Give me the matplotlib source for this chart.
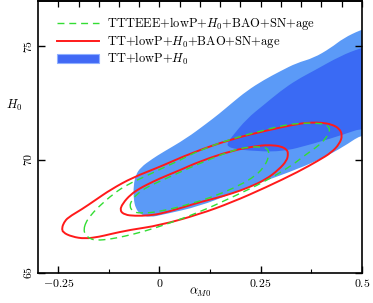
import numpy as np
import matplotlib
matplotlib.use("Agg")
import matplotlib.pyplot as plt
from matplotlib.patches import PathPatch, Patch
from matplotlib.lines import Line2D
from matplotlib.path import Path

plt.rcParams['font.family'] = 'serif'
plt.rcParams['font.serif'] = ['cmr10']
plt.rcParams['mathtext.fontset'] = 'cm'
plt.rcParams['axes.unicode_minus'] = False

# ------------------------------------------------------------
# contour boundaries (alpha_M0, H0)
# ------------------------------------------------------------

# TT+lowP+H0, 2 sigma (light blue)
blue2_x = [-0.025, -0.047, -0.059, -0.064, -0.064, -0.059, -0.047, -0.017, 0.007,
           0.066, 0.116, 0.148, 0.177, 0.216, 0.258, 0.300, 0.339, 0.381, 0.423,
           0.455, 0.497, 0.52, 0.52,
           0.499, 0.455, 0.406, 0.344, 0.263, 0.179, 0.098, 0.012]
blue2_y = [67.44, 67.58, 67.84, 68.28, 68.85, 69.30, 69.65, 70.04, 70.31,
           70.93, 71.59, 72.03, 72.47, 73.04, 73.52, 73.92, 74.27, 74.49, 74.93,
           75.37, 75.73, 75.85, 71.0,
           71.10, 70.57, 70.09, 69.60, 69.07, 68.50, 67.93, 67.58]

# TT+lowP+H0, 1 sigma (dark blue)
blue1_x = [0.167, 0.177, 0.216, 0.258, 0.300, 0.339, 0.381, 0.447, 0.497, 0.52,
           0.52, 0.497, 0.462, 0.381, 0.300, 0.216, 0.184, 0.170]
blue1_y = [70.70, 70.97, 71.81, 72.42, 73.04, 73.52, 73.92, 74.58, 74.93, 75.0,
           71.3, 71.37, 71.15, 70.70, 70.33, 70.40, 70.48, 70.57]

# TT+lowP+H0+BAO+SN+age (red)
red2_x = [-0.241, -0.236, -0.226, -0.192, -0.160, -0.120, -0.066, 0.0, 0.081,
          0.179, 0.263, 0.344, 0.376, 0.401, 0.425, 0.445, 0.452, 0.445, 0.425,
          0.393, 0.344, 0.263, 0.179, 0.098, 0.0, -0.074, -0.123, -0.148,
          -0.184, -0.216, -0.239]
red2_y = [66.98, 67.22, 67.44, 67.80, 68.19, 68.68, 69.21, 69.67, 70.31,
          70.91, 71.28, 71.59, 71.64, 71.63, 71.56, 71.37, 71.06, 70.70, 70.31,
          69.96, 69.47, 68.77, 68.11, 67.58, 67.09, 66.89, 66.70, 66.59,
          66.50, 66.59, 66.78]

red1_x = [-0.098, -0.086, -0.061, -0.025, 0.007, 0.066, 0.098, 0.140, 0.179,
          0.221, 0.263, 0.295, 0.315, 0.318, 0.315, 0.300, 0.275, 0.246, 0.179,
          0.098, 0.049, 0.0, -0.030, -0.049, -0.071, -0.091]
red1_y = [67.75, 67.56, 67.51, 67.53, 67.62, 67.93, 68.11, 68.30, 68.50,
          68.77, 69.12, 69.56, 69.96, 70.26, 70.44, 70.59, 70.64, 70.62, 70.40,
          69.91, 69.52, 69.16, 68.90, 68.72, 68.46, 68.06]

# TTTEEE+lowP+H0+BAO+SN+age (green dashed)
green2_x = [-0.187, -0.184, -0.172, -0.155, -0.123, -0.086, -0.037, 0.017, 0.098,
            0.179, 0.263, 0.327, 0.352, 0.376, 0.393, 0.411, 0.420, 0.420, 0.411,
            0.393, 0.344, 0.302, 0.263, 0.179, 0.098, 0.049, 0.0, -0.030,
            -0.079, -0.113, -0.152, -0.172, -0.182]
green2_y = [66.92, 66.70, 66.50, 66.43, 66.48, 66.61, 66.83, 67.14, 67.67,
            68.33, 69.05, 69.74, 70.09, 70.40, 70.62, 70.93, 71.23, 71.41, 71.54,
            71.61, 71.61, 71.50, 71.32, 70.93, 70.40, 69.96, 69.56, 69.30,
            68.90, 68.50, 67.89, 67.49, 67.22]

green1_x = [-0.074, -0.066, -0.049, 0.0, 0.081, 0.140, 0.197, 0.239, 0.261,
            0.270, 0.270, 0.261, 0.221, 0.179, 0.098, 0.049, 0.0, -0.030,
            -0.054, -0.069]
green1_y = [67.93, 67.71, 67.62, 67.69, 68.06, 68.41, 68.85, 69.30, 69.74,
            70.13, 70.40, 70.55, 70.57, 70.40, 69.82, 69.43, 69.03, 68.79,
            68.50, 68.19]

labels = ['TTTEEE+lowP+$H_0$+BAO+SN+age',
          'TT+lowP+$H_0$+BAO+SN+age',
          'TT+lowP+$H_0$']

xticks = [-0.25, 0, 0.25, 0.5]
xticklabels = ['$-0.25$', '$0$', '$0.25$', '$0.5$']
yticks = [65, 70, 75]


def closed_curve(xs, ys):
    # closed quadratic bezier path using the read points as control points
    p = np.column_stack([xs, ys])
    m = (p + np.roll(p, -1, axis=0)) / 2
    verts = [m[-1]]
    codes = [Path.MOVETO]
    for i in range(len(p)):
        verts += [p[i], m[i]]
        codes += [Path.CURVE3, Path.CURVE3]
    return Path(verts, codes)


# ------------------------------------------------------------
# figure
# ------------------------------------------------------------

c_light = '#5b9af7'
c_dark = '#3a6af4'
c_red = '#ff1a1a'
c_green = '#33dd33'

fig = plt.figure(figsize=(3.73, 3.03), dpi=100)
ax = fig.add_axes([0.102, 0.100, 0.868, 0.896])

ax.add_patch(PathPatch(closed_curve(blue2_x, blue2_y), facecolor=c_light,
                       edgecolor='none', zorder=1))
ax.add_patch(PathPatch(closed_curve(blue1_x, blue1_y), facecolor=c_dark,
                       edgecolor='none', zorder=2))

for xs, ys in [(red2_x, red2_y), (red1_x, red1_y)]:
    ax.add_patch(PathPatch(closed_curve(xs, ys), facecolor='none',
                           edgecolor=c_red, lw=1.4, zorder=3))
for xs, ys in [(green2_x, green2_y), (green1_x, green1_y)]:
    ax.add_patch(PathPatch(closed_curve(xs, ys), facecolor='none',
                           edgecolor=c_green, lw=1.0, zorder=4,
                           linestyle=(0, (5, 3.5))))

ax.set_xlim(-0.3, 0.5)
ax.set_ylim(65, 77)

ax.set_xticks(xticks)
ax.set_xticklabels(xticklabels, fontsize=8.5)
ax.set_xticks([-0.125, 0.125, 0.375], minor=True)
ax.set_yticks(yticks)
ax.set_yticklabels([f'${v}$' for v in yticks], fontsize=8.5, rotation=90,
                   va='center')
ax.tick_params(which='major', direction='in', length=5, width=1.0, pad=3,
               left=True, right=True, bottom=True, top=False)
ax.tick_params(which='minor', direction='in', length=3, width=0.8,
               left=False, right=False, bottom=True, top=False)

top = ax.secondary_xaxis('top')
top.set_xticks(np.round(np.arange(-0.25, 0.51, 0.05), 2))
top.tick_params(direction='in', length=4, width=0.9, labeltop=False)

for s in ax.spines.values():
    s.set_linewidth(1.2)
top.spines['top'].set_linewidth(1.2)

ax.set_xlabel(r'$\alpha_{M0}$', fontsize=9)
ax.xaxis.set_label_coords(0.5, -0.05)
ax.set_ylabel(r'$H_0$', fontsize=9, rotation=0, va='center', ha='center')
ax.yaxis.set_label_coords(-0.074, 0.617)

handles = [Line2D([], [], color=c_green, lw=1.0, dashes=(5, 3.5)),
           Line2D([], [], color=c_red, lw=1.4),
           Patch(facecolor='#4169f5', edgecolor='#8fb0ff', lw=0.8)]
ax.legend(handles, labels, loc='upper left', bbox_to_anchor=(0.0586, 0.948),
          frameon=False, fontsize=9, handlelength=3.36, handletextpad=0.64,
          labelspacing=0.05, borderaxespad=0, borderpad=0)

fig.savefig('out.png', dpi=100)
